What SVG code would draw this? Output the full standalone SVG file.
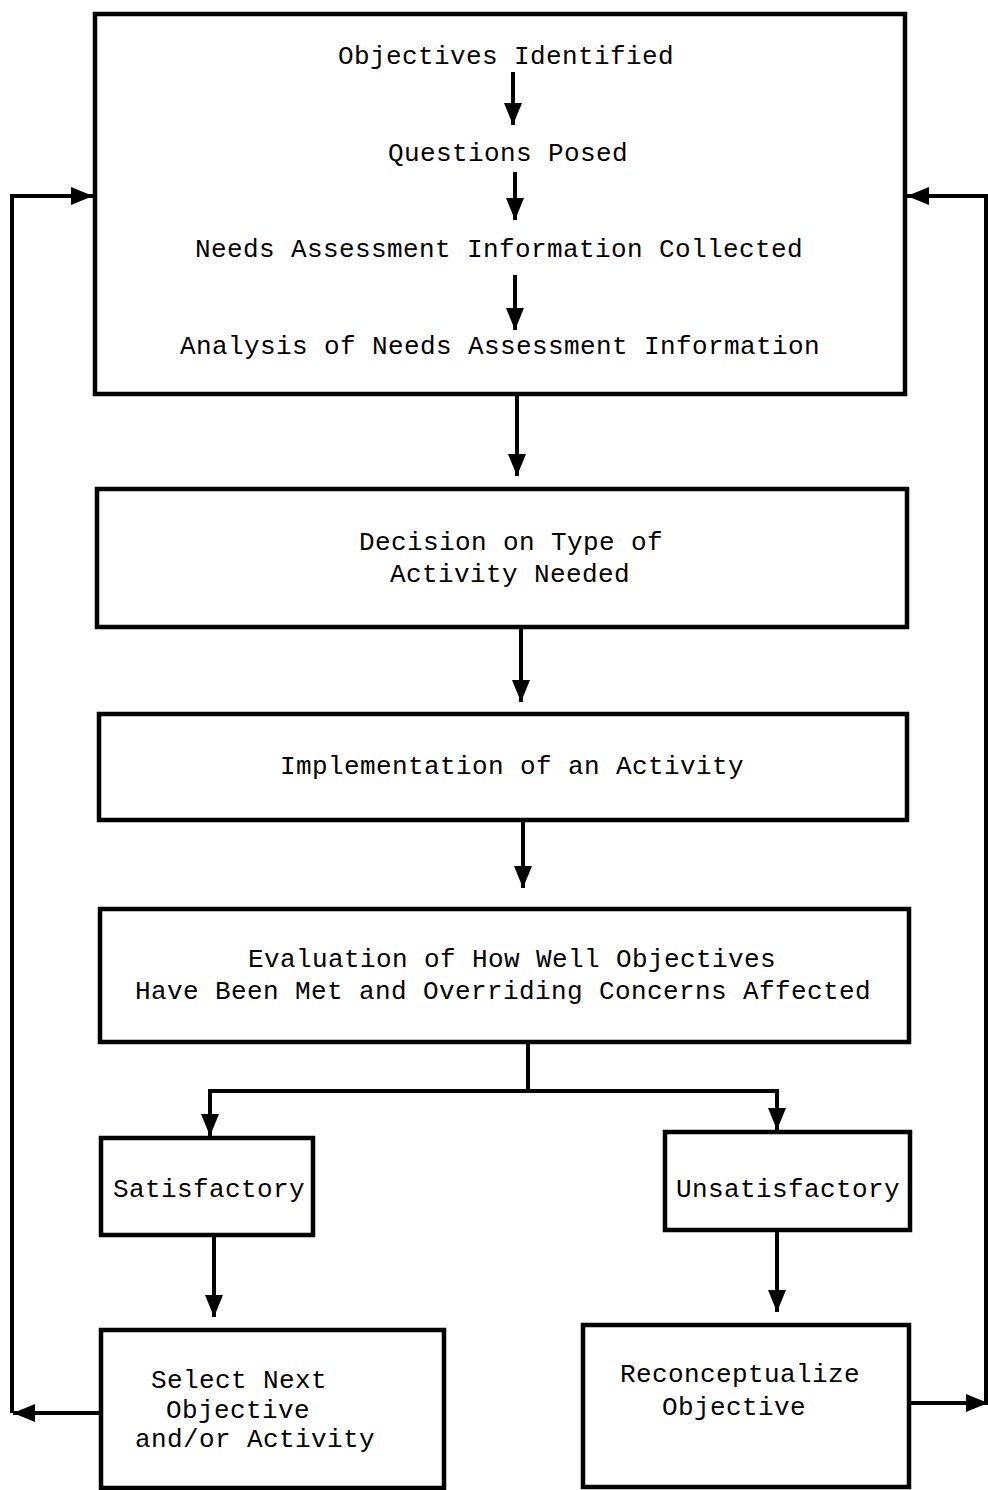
<svg xmlns="http://www.w3.org/2000/svg" width="988" height="1490" viewBox="0 0 988 1490">
<defs>
<marker id="ah" markerUnits="userSpaceOnUse" markerWidth="22" markerHeight="18" refX="22" refY="9" orient="auto">
<path d="M0,0 L22,9 L0,18 z" fill="#000"/>
</marker>
<style>
.box{fill:#fff;stroke:#000;stroke-width:4.5}
.t{font-family:"Liberation Mono","DejaVu Sans Mono",monospace;font-size:26px;letter-spacing:0.4px;fill:#000}
.c{fill:none;stroke:#000;stroke-width:4}
.a{fill:none;stroke:#000;stroke-width:4;marker-end:url(#ah)}
</style>
</defs>
<rect width="988" height="1490" fill="#fff"/>
<g id="n1">
<rect class="box" x="95" y="14" width="810" height="380"/>
<text class="t" x="338" y="64">Objectives Identified</text>
<text class="t" x="388" y="161">Questions Posed</text>
<text class="t" x="195" y="257">Needs Assessment Information Collected</text>
<text class="t" x="180" y="354">Analysis of Needs Assessment Information</text>
</g>
<g id="n2">
<rect class="box" x="97" y="489" width="810" height="138"/>
<text class="t" x="359" y="550">Decision on Type of</text>
<text class="t" x="390" y="582">Activity Needed</text>
</g>
<g id="n3">
<rect class="box" x="99" y="714" width="808" height="106"/>
<text class="t" x="280" y="774">Implementation of an Activity</text>
</g>
<g id="n4">
<rect class="box" x="100" y="909" width="809" height="133"/>
<text class="t" x="248" y="967">Evaluation of How Well Objectives</text>
<text class="t" x="135" y="999">Have Been Met and Overriding Concerns Affected</text>
</g>
<g id="n5">
<rect class="box" x="101" y="1138" width="212" height="97"/>
<text class="t" x="113" y="1197">Satisfactory</text>
</g>
<g id="n6">
<rect class="box" x="665" y="1132" width="245" height="98"/>
<text class="t" x="676" y="1197">Unsatisfactory</text>
</g>
<g id="n7">
<rect class="box" x="101" y="1330" width="343" height="158"/>
<text class="t" x="151" y="1388">Select Next</text>
<text class="t" x="166" y="1418">Objective</text>
<text class="t" x="135" y="1447">and/or Activity</text>
</g>
<g id="n8">
<rect class="box" x="583" y="1325" width="326" height="162"/>
<text class="t" x="620" y="1382">Reconceptualize</text>
<text class="t" x="662" y="1415">Objective</text>
</g>
<g id="connectors">
<line class="a" x1="513" y1="72" x2="513" y2="125"/>
<line class="a" x1="515" y1="172" x2="515" y2="220"/>
<line class="a" x1="515" y1="275" x2="515" y2="330"/>
<line class="a" x1="517" y1="396" x2="517" y2="476"/>
<line class="a" x1="521" y1="629" x2="521" y2="702"/>
<line class="a" x1="523" y1="822" x2="523" y2="888"/>
<polyline class="c" points="528,1044 528,1091"/>
<polyline class="a" points="528,1091 210,1091 210,1136"/>
<polyline class="a" points="528,1091 777,1091 777,1130"/>
<line class="a" x1="214" y1="1237" x2="214" y2="1317"/>
<line class="a" x1="777" y1="1232" x2="777" y2="1312"/>
<polyline class="a" points="99,1413 13,1413"/>
<polyline class="a" points="12,1413 12,196 93,196"/>
<line class="a" x1="911" y1="1403" x2="988" y2="1403"/>
<polyline class="a" points="986,1403 986,196 907,196"/>
</g>
</svg>
